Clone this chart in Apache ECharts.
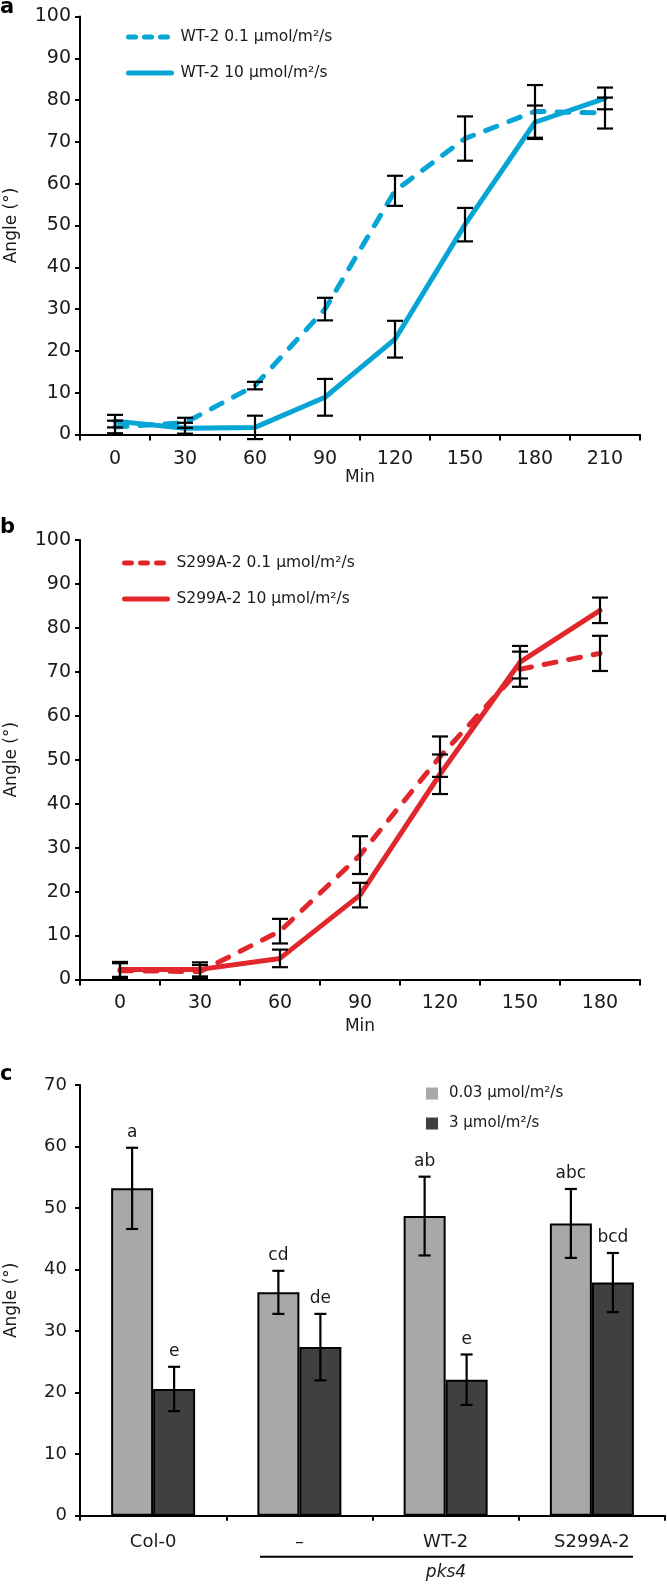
<!DOCTYPE html>
<html>
<head>
<meta charset="utf-8">
<script src="https://cdn.jsdelivr.net/npm/echarts@6/dist/echarts.min.js"></script>
<style>
html,body{margin:0;padding:0;background:#fff;}
#chart{width:667px;height:1586px;}
</style>
</head>
<body>
<div id="chart"></div>
<script>
// ---- Data ----
// Panel a
const catA = ['0', '30', '60', '90', '120', '150', '180', '210'];
const wtLow = [1.8, 2.8, 11.7, 30.0, 58.3, 70.8, 77.3, 76.9];
const wtLowErr = [1.5, 1.2, 0.9, 2.7, 3.6, 5.3, 6.3, 3.7];
const wtHigh = [3.2, 1.5, 1.7, 8.9, 22.8, 50.2, 74.7, 80.4];
const wtHighErr = [1.5, 1.3, 2.8, 4.4, 4.4, 4.0, 4.0, 2.6];
// Panel b
const catB = ['0', '30', '60', '90', '120', '150', '180'];
const saLow = [2.0, 1.8, 11.0, 28.3, 50.7, 70.6, 74.2];
const saLowErr = [1.7, 1.5, 2.8, 4.3, 4.6, 4.0, 4.0];
const saHigh = [2.3, 2.3, 4.8, 19.2, 46.7, 72.2, 84.0];
const saHighErr = [1.7, 1.6, 2.0, 2.8, 4.5, 3.7, 2.9];
// Panel c
const catC = ['Col-0', '–', 'WT-2', 'S299A-2'];
const cLow = [53.2, 36.3, 48.7, 47.5];
const cLowErr = [6.6, 3.5, 6.4, 5.6];
const cHigh = [20.6, 27.4, 22.1, 37.9];
const cHighErr = [3.6, 5.4, 4.1, 4.8];
const cLowLetters = ['a', 'cd', 'ab', 'abc'];
const cHighLetters = ['e', 'de', 'e', 'bcd'];
const ticksA = [0, 100, 10];
const ticksC = [0, 70, 10];

const nameA1 = 'WT-2 0.1 μmol/m²/s', nameA2 = 'WT-2 10 μmol/m²/s';
const nameB1 = 'S299A-2 0.1 μmol/m²/s', nameB2 = 'S299A-2 10 μmol/m²/s';
const nameC1 = '0.03 μmol/m²/s', nameC2 = '3 μmol/m²/s';

// ---- Styles ----
const FONT = 'DejaVu Sans';
const TXT = '#1a1a1a';
const BLUE = '#06a5d6';
const RED = '#e1272c';
const LIGHT = '#a8a8a8';
const DARK = '#404040';

function errData(vals, errs) {
  return vals.map((v, i) => [i, v - errs[i], v + errs[i]]);
}
function errRender(capW, offset, letters) {
  return function (params, api) {
    const i = api.value(0);
    const pHi = api.coord([i, api.value(2)]);
    const pLo = api.coord([i, api.value(1)]);
    const x = pHi[0] + offset;
    const st = { stroke: '#000', lineWidth: 2.2 };
    const ch = [
      { type: 'line', shape: { x1: x, y1: pHi[1], x2: x, y2: pLo[1] }, style: st },
      { type: 'line', shape: { x1: x - capW / 2, y1: pHi[1], x2: x + capW / 2, y2: pHi[1] }, style: st },
      { type: 'line', shape: { x1: x - capW / 2, y1: pLo[1], x2: x + capW / 2, y2: pLo[1] }, style: st }
    ];
    if (letters) {
      ch.push({ type: 'text', x: x, y: pHi[1] - 15,
        style: { text: letters[params.dataIndex], fill: TXT, font: '17px "' + FONT + '"', align: 'center', verticalAlign: 'middle' } });
    }
    return { type: 'group', children: ch };
  };
}

function xAxisLine(idx, cats, nameGap, name, margin) {
  return {
    type: 'category', gridIndex: idx, data: cats, boundaryGap: true,
    axisLine: { lineStyle: { color: '#000', width: 2 } },
    axisTick: { show: true, length: 6, lineStyle: { color: '#000', width: 2 } },
    axisLabel: { color: TXT, fontFamily: FONT, fontSize: 19, margin: margin },
    name: name, nameLocation: 'middle', nameGap: nameGap,
    nameTextStyle: { color: TXT, fontFamily: FONT, fontSize: 17 }
  };
}
function yAxisDef(idx, t, margin, fs) {
  return {
    type: 'value', gridIndex: idx, min: t[0], max: t[1], interval: t[2],
    axisLine: { show: true, lineStyle: { color: '#000', width: 2 } },
    axisTick: { show: true, length: 5, lineStyle: { color: '#000', width: 2 } },
    axisLabel: { color: TXT, fontFamily: FONT, fontSize: fs, margin: margin },
    splitLine: { show: false },
    name: 'Angle (°)', nameLocation: 'middle', nameRotate: 90, nameGap: 60,
    nameTextStyle: { color: TXT, fontFamily: FONT, fontSize: 17 }
  };
}
function lineSeries(name, data, color, dashed, xi) {
  return {
    name: name, type: 'line', xAxisIndex: xi, yAxisIndex: xi, data: data,
    symbol: 'none', z: 2,
    lineStyle: { color: color, width: 5, type: dashed ? [12, 13] : 'solid', cap: 'round', join: 'round' },
    itemStyle: { color: color }
  };
}
function errSeries(vals, errs, xi, capW, offset, letters) {
  return {
    type: 'custom', xAxisIndex: xi, yAxisIndex: xi, z: 5, clip: false,
    renderItem: errRender(capW, offset, letters),
    data: errData(vals, errs), silent: true
  };
}
function legendDef(top, left, names) {
  return {
    top: top, left: left, orient: 'vertical', selectedMode: false,
    itemWidth: 43, itemHeight: 14, itemGap: 20,
    itemStyle: { color: 'rgba(0,0,0,0)', borderWidth: 0, borderColor: 'rgba(0,0,0,0)' },
    textStyle: { color: TXT, fontFamily: FONT, fontSize: 15.5, padding: [0, 0, 0, 4] },
    data: [
      { name: names[0], lineStyle: { type: [7, 9], width: 5, cap: 'round' } },
      { name: names[1], lineStyle: { type: 'solid', width: 5, cap: 'round' } }
    ]
  };
}

const option = {
  animation: false,
  backgroundColor: '#fff',
  textStyle: { fontFamily: FONT },
  grid: [
    { left: 80, top: 16.5, width: 560, height: 418, outerBoundsMode: 'none', containLabel: false },
    { left: 80, top: 540, width: 560, height: 439.5, outerBoundsMode: 'none', containLabel: false },
    { left: 80, top: 1085, width: 585, height: 430.7, outerBoundsMode: 'none', containLabel: false }
  ],
  xAxis: [
    xAxisLine(0, catA, 34, 'Min', 15),
    xAxisLine(1, catB, 39, 'Min', 14),
    {
      type: 'category', gridIndex: 2, data: catC, boundaryGap: true,
      axisLine: { lineStyle: { color: '#000', width: 2 } },
      axisTick: { show: true, length: 5, lineStyle: { color: '#000', width: 2 } },
      axisLabel: { color: TXT, fontFamily: FONT, fontSize: 18, margin: 18 }
    }
  ],
  yAxis: [
    yAxisDef(0, ticksA, 9, 19),
    yAxisDef(1, ticksA, 9, 19),
    yAxisDef(2, ticksC, 13, 18)
  ],
  legend: [
    legendDef(24, 121, [nameA1, nameA2]),
    legendDef(550, 117, [nameB1, nameB2]),
    {
      top: 1081, left: 421, orient: 'vertical', selectedMode: false,
      itemWidth: 12, itemHeight: 12, itemGap: 15, icon: 'rect',
      itemStyle: { borderWidth: 0 },
      textStyle: { color: TXT, fontFamily: FONT, fontSize: 15, padding: [0, 0, 0, 6] },
      data: [nameC1, nameC2]
    }
  ],
  series: [
    lineSeries(nameA1, wtLow, BLUE, true, 0),
    lineSeries(nameA2, wtHigh, BLUE, false, 0),
    errSeries(wtLow, wtLowErr, 0, 16, 0),
    errSeries(wtHigh, wtHighErr, 0, 16, 0),
    lineSeries(nameB1, saLow, RED, true, 1),
    lineSeries(nameB2, saHigh, RED, false, 1),
    errSeries(saLow, saLowErr, 1, 16, 0),
    errSeries(saHigh, saHighErr, 1, 16, 0),
    {
      name: nameC1, type: 'bar', xAxisIndex: 2, yAxisIndex: 2, data: cLow,
      barWidth: 42, barGap: '0%',
      itemStyle: { color: LIGHT, borderColor: '#000', borderWidth: 2 }
    },
    {
      name: nameC2, type: 'bar', xAxisIndex: 2, yAxisIndex: 2, data: cHigh,
      barWidth: 42, barGap: '0%',
      itemStyle: { color: DARK, borderColor: '#000', borderWidth: 2 }
    },
    errSeries(cLow, cLowErr, 2, 12, -21, cLowLetters),
    errSeries(cHigh, cHighErr, 2, 12, 21, cHighLetters)
  ],
  graphic: [
    { type: 'text', left: 0, top: -3, style: { text: 'a', fill: '#000', font: 'bold 21px "' + FONT + '"' } },
    { type: 'text', left: 0, top: 517, style: { text: 'b', fill: '#000', font: 'bold 21px "' + FONT + '"' } },
    { type: 'text', left: 0, top: 1064, style: { text: 'c', fill: '#000', font: 'bold 21px "' + FONT + '"' } },
    { type: 'line', shape: { x1: 260, y1: 1556.7, x2: 633, y2: 1556.7 }, style: { stroke: '#000', lineWidth: 2 } },
    { type: 'text', x: 446, y: 1573, style: { text: 'pks4', fill: TXT, font: 'italic 17px "' + FONT + '"', align: 'center', verticalAlign: 'middle' } }
  ]
};

const chart = echarts.init(document.getElementById('chart'), null, { renderer: 'canvas', width: 667, height: 1586 });
chart.setOption(option);
</script>
</body>
</html>
